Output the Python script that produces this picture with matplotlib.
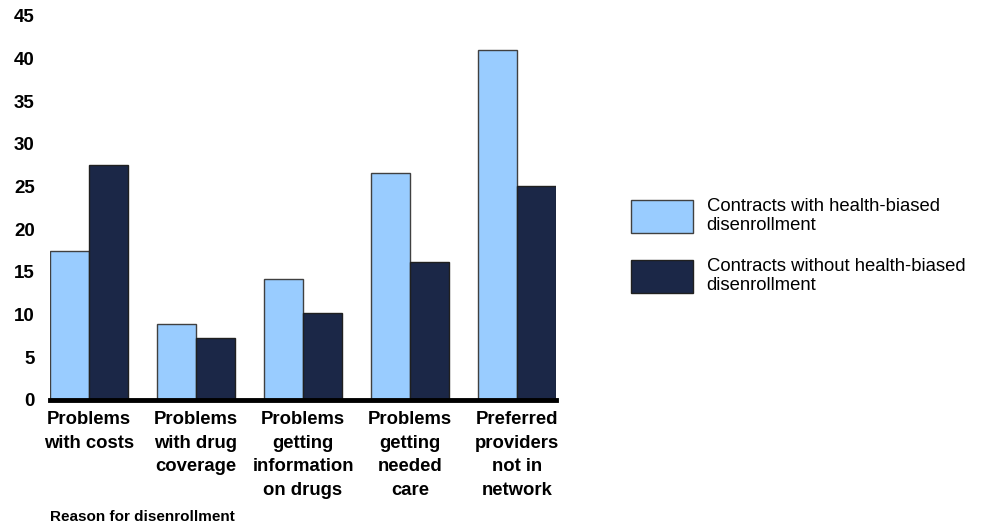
import numpy as np
import matplotlib
matplotlib.use("Agg")
import matplotlib.pyplot as plt

plt.rcParams['font.family'] = ['Liberation Sans', 'DejaVu Sans']

# data
categories = ["Problems\nwith costs", "Problems\nwith drug\ncoverage",
              "Problems\ngetting\ninformation\non drugs", "Problems\ngetting\nneeded\ncare",
              "Preferred\nproviders\nnot in\nnetwork"]
with_bias = [17.5, 8.9, 14.2, 26.6, 41.0]
without_bias = [27.5, 7.3, 10.2, 16.2, 25.1]
series_names = ["Contracts with health-biased\ndisenrollment",
                "Contracts without health-biased\ndisenrollment"]
yticks = [0, 5, 10, 15, 20, 25, 30, 35, 40, 45]

light = "#99CCFF"
dark = "#1B2747"

fig = plt.figure(figsize=(9.85, 5.29), dpi=100)
ax = fig.add_axes([0.0508, 0.2439, 0.5137, 0.7259])

x = np.arange(len(categories))
w = 0.365
ax.bar(x - w / 2, with_bias, w, color=light, edgecolor="#404040", linewidth=1.0,
       label=series_names[0], zorder=2)
ax.bar(x + w / 2, without_bias, w, color=dark, edgecolor="#202020", linewidth=1.0,
       label=series_names[1], zorder=2)

ax.set_xlim(-w, len(categories) - 1 + w)
ax.set_ylim(0, 45)
ax.set_yticks(yticks)
ax.set_yticklabels([str(t) for t in yticks], fontsize=13.5, fontweight="bold")
ax.set_xticks(x)
ax.set_xticklabels(categories, fontsize=13.3, fontweight="bold", linespacing=1.5)
ax.tick_params(axis="y", length=0, pad=11)
ax.tick_params(axis="x", length=0, pad=8)

for s in ["top", "right", "left"]:
    ax.spines[s].set_visible(False)
ax.spines["bottom"].set_linewidth(3.5)
ax.spines["bottom"].set_zorder(3)

fig.text(50 / 985, 1 - 517 / 529, "Reason for disenrollment", fontsize=11,
         fontweight="bold", va="center", ha="left")

ax.legend(loc="center left", bbox_to_anchor=(631 / 985, 1 - 246 / 529),
          bbox_transform=fig.transFigure, frameon=False, fontsize=13.3,
          handlelength=3.35, handleheight=2.37, handletextpad=0.75,
          labelspacing=1.25, borderpad=0, borderaxespad=0)

fig.savefig("out.png", dpi=100)
